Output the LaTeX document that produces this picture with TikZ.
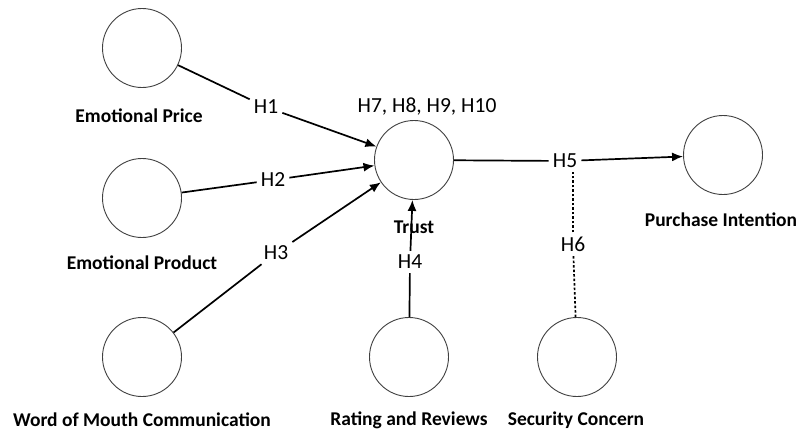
\documentclass[tikz,border=0pt]{standalone}
\usepackage{fontspec}
\setmainfont{Carlito}
\usepackage{tikz}
\usetikzlibrary{arrows.meta}

\begin{document}
\begin{tikzpicture}[x=1pt,y=-1pt,
            construct/.style={circle,draw=black!75,line width=0.9pt,minimum size=79pt,inner sep=0pt},
            construct name/.style={font=\fontsize{19.5}{22}\selectfont\bfseries,inner sep=0pt},
            hypo/.style={font=\fontsize{21.5}{24}\selectfont,inner sep=4pt},
            path line/.style={line width=1.7pt},
            arrow line/.style={path line,-{Latex[length=11pt,width=9pt]}},
            dot line/.style={line width=1.7pt,dash pattern=on 2.5pt off 2pt}]
            \useasboundingbox (0,0) rectangle (802,432);
            \node[construct] (price) at (142,48) {};
            \node[construct] (product) at (142,198) {};
            \node[construct] (wom) at (142,357) {};
            \node[construct] (trust) at (414,160) {};
            \node[construct] (rating) at (409,357) {};
            \node[construct] (security) at (577,357) {};
            \node[construct] (intention) at (723,155) {};
            \node[construct name] (price text) at (139,116) {Emotional Price};
            \node[construct name] (product text) at (142,263) {Emotional Product};
            \node[construct name] (wom text) at (142,420) {Word of Mouth Communication};
            \node[construct name] (trust text) at (414,227) {Trust};
            \node[construct name] (rating text) at (409,420) {Rating and Reviews};
            \node[construct name] (security text) at (576,420) {Security Concern};
            \node[construct name] (intention text) at (721,220) {Purchase Intention};
            \node[hypo] (h1) at (266,107) {H1};
            \node[hypo] (h2) at (273,180) {H2};
            \node[hypo] (h3) at (276,253) {H3};
            \node[hypo] (h4) at (410,262) {H4};
            \node[hypo] (h5) at (565,161) {H5};
            \node[hypo] (h6) at (573,244) {H6};
            \node[hypo] (h7) at (427,107) {H7, H8, H9, H10};
            \draw[path line] (price) -- (h1);
            \draw[arrow line] (h1) -- (trust);
            \draw[path line] (product) -- (h2);
            \draw[arrow line] (h2) -- (trust);
            \draw[path line] (wom) -- (h3);
            \draw[arrow line] (h3) -- (trust);
            \draw[path line] (rating) -- (h4);
            \draw[arrow line] (h4) -- (trust);
            \draw[path line] (trust) -- (h5);
            \draw[arrow line] (h5) -- (intention);
            \draw[dot line] (security) -- (h6);
            \draw[dot line] (h6) -- (h6 |- h5.south);
        \end{tikzpicture}
\end{document}
